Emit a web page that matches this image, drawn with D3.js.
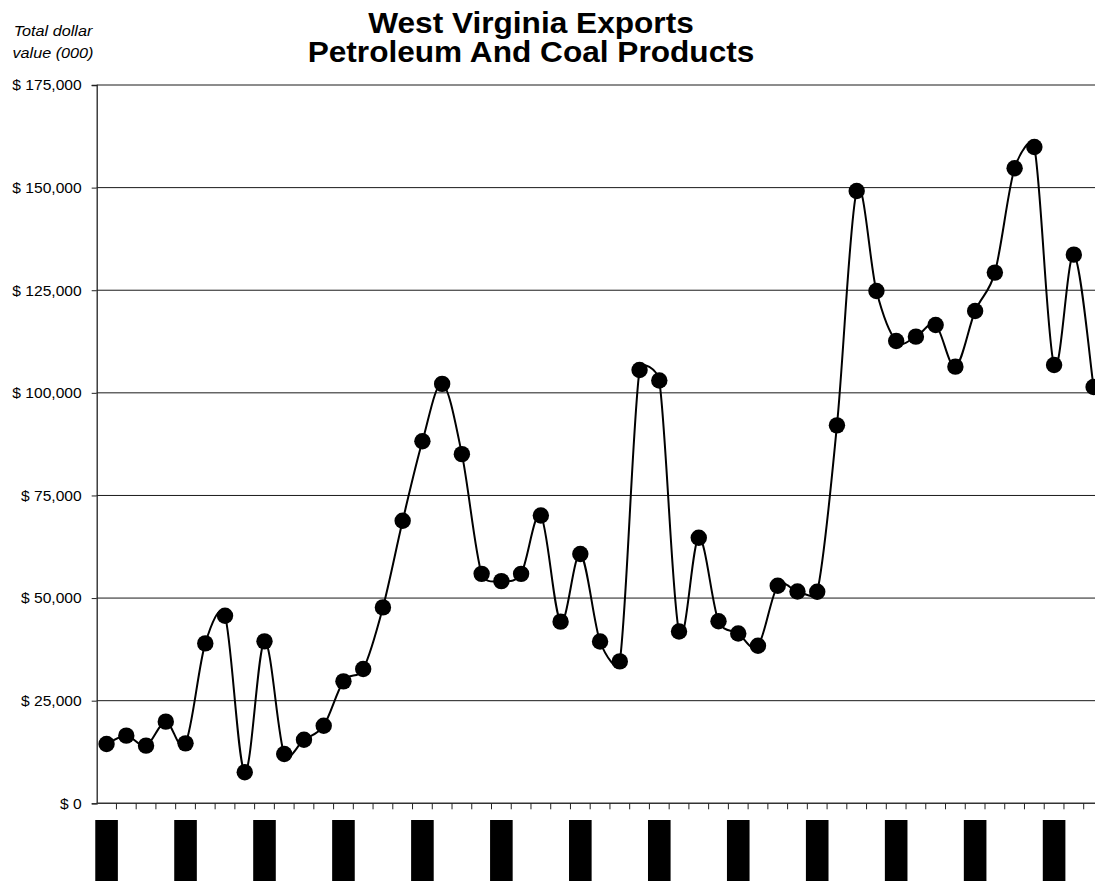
<!DOCTYPE html>
<html>
<head>
<meta charset="utf-8">
<script src="https://d3js.org/d3.v7.min.js"></script>
<style>
  html, body { margin: 0; padding: 0; background: #fff; overflow: hidden; }
  svg { display: block; }
</style>
</head>
<body>
<script>
// ---- data ----
const categories = d3.range(1, 52).map(i => "P" + i);
const values = [
  14450, 16480, 14040, 19890, 14610, 38960, 45700, 7550, 39450, 12010,
  15500, 18910, 29710, 32710, 47730, 68830, 88200, 102180, 85060, 55900,
  54120, 55900, 70110, 44260, 60740, 39420, 34570, 105570, 102990, 41840,
  64700, 44350, 41360, 38370, 53000, 51600, 51540, 92080, 149190, 124820,
  112630, 113690, 116530, 106380, 119940, 129290, 154710, 159910, 106780, 133670,
  101420
];
const yTicks = [0, 25000, 50000, 75000, 100000, 125000, 150000, 175000];
const labelEvery = 4;
const titleLines = ["West Virginia Exports", "Petroleum And Coal Products"];
const yTitleLines = ["Total dollar", "value (000)"];

(function () {
// ---- layout ----
const W = 1095, H = 881;
const mLeft = 96.7, bandW = 19.74, mTop = 85, mBottom = 803.3;
const mRight = mLeft + bandW * categories.length;

const svg = d3.select("body").append("svg")
  .attr("width", W).attr("height", H)
  .style("font-family", "'Liberation Sans', Arial, sans-serif");

const x = d3.scaleBand().domain(categories).range([mLeft, mRight]).padding(0);
const y = d3.scaleLinear().domain([0, 175000]).range([mBottom, mTop]);

function stretch(sel, f) {
  sel.each(function () {
    const len = this.getComputedTextLength();
    d3.select(this).attr("textLength", len * f).attr("lengthAdjust", "spacingAndGlyphs");
  });
}

// Excel-style smoothed line (Bezier with limited control-point reach)
function smoothPath(pts) {
  const p = d3.path();
  const n = pts.length;
  const dist = (a, b) => Math.hypot(a[0] - b[0], a[1] - b[1]);
  p.moveTo(pts[0][0], pts[0][1]);
  for (let i = 0; i < n - 1; i++) {
    const p0 = pts[Math.max(i - 1, 0)], p1 = pts[i], p2 = pts[i + 1], p3 = pts[Math.min(i + 2, n - 1)];
    const d02 = dist(p0, p2), d12 = dist(p1, p2), d13 = dist(p1, p3);
    const f = 1 / 6;
    let f0 = f, f1 = f;
    if (d02 / 6 >= d12 / 2 && d02 > 0) f0 = d12 / d02 / 2;
    if (d13 / 6 >= d12 / 2 && d13 > 0) f1 = d12 / d13 / 2;
    const b1 = [p1[0] + (p2[0] - p0[0]) * f0, p1[1] + (p2[1] - p0[1]) * f0];
    const b2 = [p2[0] + (p1[0] - p3[0]) * f1, p2[1] + (p1[1] - p3[1]) * f1];
    p.bezierCurveTo(b1[0], b1[1], b2[0], b2[1], p2[0], p2[1]);
  }
  return p.toString();
}

// gridlines
svg.append("g").selectAll("line").data(yTicks.filter(d => d > 0)).join("line")
  .attr("x1", mLeft).attr("x2", mRight)
  .attr("y1", d => y(d)).attr("y2", d => y(d))
  .attr("stroke", "#1a1a1a").attr("stroke-width", 1);

// y axis
const yAxis = svg.append("g").attr("transform", `translate(${mLeft},0)`)
  .call(d3.axisLeft(y).tickValues(yTicks).tickSize(5).tickPadding(10)
    .tickFormat(d => "$ " + d3.format(",")(d)));
yAxis.select(".domain").attr("stroke", "#222").attr("stroke-width", 1.3);
yAxis.selectAll(".tick line").attr("stroke", "#222");
yAxis.selectAll(".tick text").attr("font-size", 15).attr("fill", "#000")
  .attr("font-family", "'Liberation Sans', Arial, sans-serif").call(stretch, 1.04);

// x axis
const xAxisG = svg.append("g").attr("transform", `translate(0,${mBottom})`);
xAxisG.append("line").attr("x1", mLeft).attr("x2", mRight)
  .attr("stroke", "#333").attr("stroke-width", 1.5);
const bounds = d3.range(1, categories.length + 1).map(i => mLeft + i * x.bandwidth());
xAxisG.selectAll("line.tk").data(bounds).join("line").attr("class", "tk")
  .attr("x1", d => d).attr("x2", d => d).attr("y1", 0).attr("y2", 6)
  .attr("stroke", "#222").attr("stroke-width", 1);

// x labels (rendered as solid blocks, as in the reference)
const labelCats = categories.filter((d, i) => i % labelEvery === 0);
svg.append("g").selectAll("rect").data(labelCats).join("rect")
  .attr("x", d => x(d) + x.bandwidth() / 2 - 11.3)
  .attr("y", 820).attr("width", 22.6).attr("height", 70)
  .attr("fill", "#000");

// line
const pts = values.map((v, i) => [x(categories[i]) + x.bandwidth() / 2, y(v)]);
svg.append("path").attr("d", smoothPath(pts))
  .attr("fill", "none").attr("stroke", "#000").attr("stroke-width", 2);

// markers
svg.append("g").selectAll("circle").data(values).join("circle")
  .attr("cx", (d, i) => x(categories[i]) + x.bandwidth() / 2)
  .attr("cy", d => y(d)).attr("r", 8.2).attr("fill", "#000");

// title (one text block, two lines)
svg.append("text")
  .attr("text-anchor", "middle").attr("font-weight", "bold").attr("font-size", 29)
  .selectAll("tspan").data(titleLines).join("tspan")
  .attr("x", 531).attr("y", (d, i) => i === 0 ? 33.3 : 61.7)
  .text(d => d).call(stretch, 1.09);

// y axis title (one text block, two lines)
svg.append("text")
  .attr("text-anchor", "middle").attr("font-style", "italic").attr("font-size", 15)
  .selectAll("tspan").data(yTitleLines).join("tspan")
  .attr("x", 53).attr("y", (d, i) => i === 0 ? 36 : 58)
  .text(d => d).call(stretch, 1.08);
})();
</script>
</body>
</html>
